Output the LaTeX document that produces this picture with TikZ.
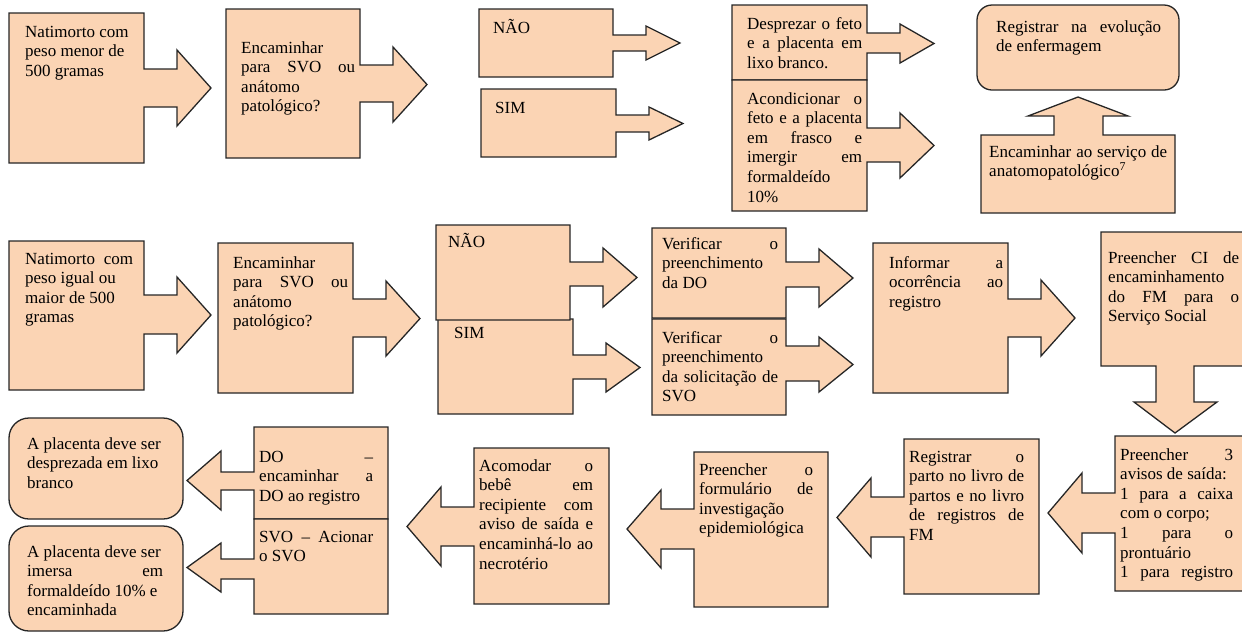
\documentclass[tikz,border=0pt]{standalone}
\usepackage{fontspec}
\setmainfont{Liberation Serif}
\definecolor{peach}{RGB}{251,212,180}
\definecolor{edge}{RGB}{38,38,38}
\tikzset{
  cbox/.style={fill=peach, draw=edge, line width=1.3pt, line join=miter},
  txt/.style={inner sep=0pt, anchor=base west, font=\fontsize{17}{19.6}\selectfont},
}
% a line stretched to the full text width
\newcommand\J[1]{\makebox[\linewidth][s]{#1}}
% right-pointing callout: box (x1,y1)-(x2,y2), stem from y=s1 to y=s2, head from y=h1 to y=h2
\newcommand\callR[8]{\path[cbox] (#1,#2) -- (#3,#2) -- (#3,#5) -- ({#3+33},#5) -- ({#3+33},#7)
  -- ({#3+67},{(#7+#8)/2}) -- ({#3+33},#8) -- ({#3+33},#6) -- (#3,#6) -- (#3,#4) -- (#1,#4) -- cycle;}
% left-pointing callout, same arguments
\newcommand\callL[8]{\path[cbox] (#3,#2) -- (#1,#2) -- (#1,#5) -- ({#1-33},#5) -- ({#1-33},#7)
  -- ({#1-67},{(#7+#8)/2}) -- ({#1-33},#8) -- ({#1-33},#6) -- (#1,#6) -- (#1,#4) -- (#3,#4) -- cycle;}
\begin{document}
\begin{tikzpicture}[x=1pt, y=-1pt]
\useasboundingbox (0,0) rectangle (1242,633);
\clip (0,0) rectangle (1242,633);

% ---- first row: weight below 500 g
\callR{9}{13}{144}{163}{69}{107}{50}{126}
\callR{226}{9}{360}{158}{65}{102}{47}{122}
\callR{479}{9}{613}{77}{35}{51}{26}{60}
\callR{481}{89}{616}{157}{115}{132}{107}{140}
\callR{732}{5}{867}{80}{33}{53}{24}{63}
\callR{732}{80}{867}{211}{128}{162}{113}{178}
\draw[cbox, rounded corners=15pt] (977,5) rectangle (1179,90);
\path[cbox] (981,135) -- (1054,135) -- (1054,116) -- (1028,116) -- (1078,97) -- (1128,116)
  -- (1103,116) -- (1103,135) -- (1175,135) -- (1175,213) -- (981,213) -- cycle;

\node[txt] (a1) at (25,37) {\parbox[t]{110pt}{Natimorto com\\peso menor de\\500 gramas}};
\node[txt] (a2) at (241,53) {\parbox[t]{114pt}{Encaminhar\\\J{para SVO ou}\\anátomo\\patológico?}};
\node[txt] (a3) at (493,33) {NÃO};
\node[txt] (a4) at (495,113) {SIM};
\node[txt] (a5) at (747,29) {\parbox[t]{115pt}{\J{Desprezar o feto}\\\J{e a placenta em}\\lixo branco.}};
\node[txt] (a6) at (747,104) {\parbox[t]{115pt}{\J{Acondicionar o}\\\J{feto e a placenta}\\\J{em frasco e}\\\J{imergir em}\\formaldeído\\10\%}};
\node[txt] (a7) at (996,32) {\parbox[t]{165pt}{\J{Registrar na evolução}\\de enfermagem}};
\node[txt] (a8) at (989,157) {\parbox[t]{178pt}{\J{Encaminhar ao serviço de}\\anatomopatológico\textsuperscript{7}}};

% ---- second row: weight of 500 g or more
\callR{9}{241}{144}{390}{295}{334}{277}{353}
\callR{218}{243}{353}{393}{299}{337}{281}{356}
\callR{438}{319}{573}{414}{355}{379}{343}{392}
\callR{436}{225}{570}{320}{262}{286}{248}{307}
\callR{652}{228}{786}{318}{262}{287}{249}{307}
\callR{652}{319}{786}{415}{346}{381}{337}{392}
\callR{873}{243}{1008}{393}{299}{337}{280}{356}
\path[cbox] (1101,232) -- (1260,232) -- (1260,366) -- (1194,366) -- (1194,402) -- (1217,402)
  -- (1175,433) -- (1134,402) -- (1156,402) -- (1156,366) -- (1101,366) -- cycle;

\node[txt] (b1) at (25,264) {\parbox[t]{108pt}{\J{Natimorto com}\\peso igual ou\\maior de 500\\gramas}};
\node[txt] (b2) at (233,268) {\parbox[t]{115pt}{Encaminhar\\\J{para SVO ou}\\anátomo\\patológico?}};
\node[txt] (b3) at (448,247) {NÃO};
\node[txt] (b4) at (454,338) {SIM};
\node[txt] (b5) at (662,249) {\parbox[t]{116pt}{\J{Verificar o}\\preenchimento\\da DO}};
\node[txt] (b6) at (662,343) {\parbox[t]{116pt}{\J{Verificar o}\\preenchimento\\\J{da solicitação de}\\SVO}};
\node[txt] (b7) at (889,268) {\parbox[t]{114pt}{\J{Informar a}\\\J{ocorrência ao}\\registro}};
\node[txt] (b8) at (1108,263) {\parbox[t]{131pt}{\J{Preencher CI de}\\encaminhamento\\\J{do FM para o}\\Serviço Social}};

% ---- third row, running right to left
\draw[cbox, rounded corners=20pt] (9,418) rectangle (183,519);
\draw[cbox, rounded corners=20pt] (9,526) rectangle (183,631);
\callL{254}{427}{388}{519}{472}{490}{451}{510}
\callL{254}{519}{388}{614}{559}{579}{543}{592}
\callL{474}{448}{609}{604}{507}{546}{487}{566}
\callL{694}{452}{828}{607}{509}{549}{490}{568}
\callL{904}{439}{1039}{594}{497}{537}{478}{557}
\callL{1115}{436}{1260}{591}{493}{533}{473}{553}

\node[txt] (c1) at (27,449) {\parbox[t]{140pt}{A placenta deve ser\\desprezada em lixo\\branco}};
\node[txt] (c2) at (27,557) {\parbox[t]{136pt}{A placenta deve ser\\\J{imersa em}\\formaldeído 10\% e\\encaminhada}};
\node[txt] (c3) at (259,462) {\parbox[t]{114pt}{\J{DO –}\\\J{encaminhar a}\\DO ao registro}};
\node[txt] (c4) at (259,542) {\parbox[t]{114pt}{\J{SVO – Acionar}\\o SVO}};
\node[txt] (c5) at (479,471) {\parbox[t]{114pt}{\J{Acomodar o}\\\J{bebê em}\\\J{recipiente com}\\\J{aviso de saída e}\\\J{encaminhá-lo ao}\\necrotério}};
\node[txt] (c6) at (699,475) {\parbox[t]{114pt}{\J{Preencher o}\\\J{formulário de}\\investigação\\epidemiológica}};
\node[txt] (c7) at (909,462) {\parbox[t]{115pt}{\J{Registrar o}\\\J{parto no livro de}\\\J{partos e no livro}\\\J{de registros de}\\FM}};
\node[txt] (c8) at (1120,460) {\parbox[t]{113pt}{\J{Preencher 3}\\avisos de saída:\\\J{1 para a caixa}\\com o corpo;\\\J{1 para o}\\prontuário\\\J{1 para registro}}};
\end{tikzpicture}
\end{document}
